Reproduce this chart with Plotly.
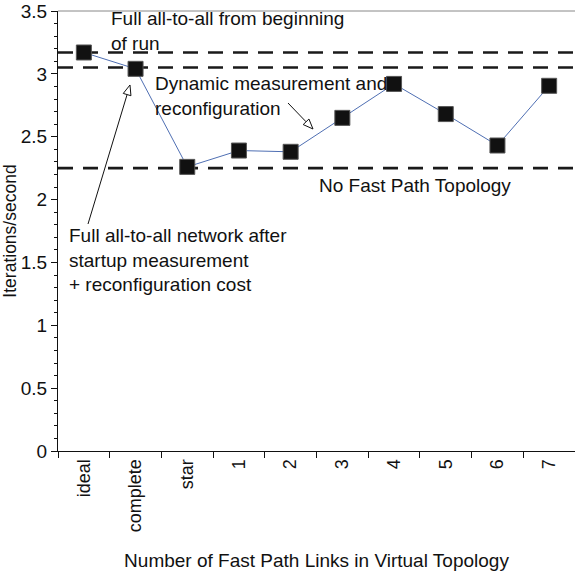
import math
import plotly.graph_objects as go

categories = ["ideal", "complete", "star", "1", "2", "3", "4", "5", "6", "7"]
iterations = [3.17, 3.04, 2.26, 2.39, 2.38, 2.65, 2.92, 2.68, 2.43, 2.905]
ref_levels = [3.17, 3.05, 2.25]

FONT = "Liberation Sans, Arial, sans-serif"

W, H = 575, 571
L, T, B = 58, 11, 120
pw, ph = W - L, H - T - B

fig = go.Figure()
fig.add_trace(go.Scatter(
    x=categories, y=iterations, mode="lines+markers",
    line=dict(color="#4f6fb3", width=1),
    marker=dict(symbol="square", size=15, color="#111111",
                line=dict(color="#555555", width=1)),
    showlegend=False,
))

for lv in ref_levels:
    fig.add_shape(type="line", xref="paper", x0=0, x1=1, yref="y", y0=lv, y1=lv,
                  line=dict(color="#1a1a1a", width=2.6, dash="15px,10px"), layer="below")

# top frame line
fig.add_shape(type="line", xref="paper", x0=0, x1=1, yref="paper", y0=1, y1=1,
              line=dict(color="#888888", width=1))


def px(x):
    return (x - L) / pw


def py(y):
    return (H - B - y) / ph


ann_font = dict(family=FONT, size=19, color="#111111")
texts = [
    ("Full all-to-all from beginning<br>of run", 109, 31),
    ("Dynamic measurement and<br>reconfiguration", 153, 96),
    ("No Fast Path Topology", 317, 185),
    ("Full all-to-all network after<br>startup measurement<br>+ reconfiguration cost", 67, 260),
]
for t, x, y in texts:
    fig.add_annotation(text=t, xref="paper", yref="paper", x=px(x), y=py(y),
                       xanchor="left", yanchor="middle", align="left",
                       showarrow=False, font=ann_font)

# arrows with open triangular heads
arrows = [((130, 85), (88, 224)), ((313, 129), (288, 103))]
for (hx, hy), (tx, ty) in arrows:
    dx, dy = hx - tx, hy - ty
    n = math.hypot(dx, dy)
    ux, uy = dx / n, dy / n
    hl, hw = 10, 4
    bx, by = hx - ux * hl, hy - uy * hl
    p1 = (bx - uy * hw, by + ux * hw)
    p2 = (bx + uy * hw, by - ux * hw)
    fig.add_shape(type="line", xref="paper", yref="paper",
                  x0=px(tx), y0=py(ty), x1=px(bx), y1=py(by),
                  line=dict(color="#111111", width=1))
    path = "M {:.5f},{:.5f} L {:.5f},{:.5f} L {:.5f},{:.5f} Z".format(
        px(hx), py(hy), px(p1[0]), py(p1[1]), px(p2[0]), py(p2[1]))
    fig.add_shape(type="path", xref="paper", yref="paper", path=path,
                  fillcolor="white", line=dict(color="#111111", width=1))

fig.update_layout(
    width=W, height=H,
    margin=dict(l=L, r=0, t=T, b=B, autoexpand=False),
    paper_bgcolor="white", plot_bgcolor="white",
    font=dict(family=FONT, size=18.5, color="#111111"),
    xaxis=dict(
        type="category", range=[-0.5, 9.5], showline=True, linecolor="#111111", linewidth=1,
        ticks="outside", tickson="boundaries", ticklen=6, tickcolor="#111111",
        tickangle=-90, showgrid=False, zeroline=False,
        tickfont=dict(family=FONT, size=18),
        title=dict(text="Number of Fast Path Links in Virtual Topology",
                   font=dict(family=FONT, size=19), standoff=24),
    ),
    yaxis=dict(
        range=[0, 3.5], dtick=0.5, showline=True, linecolor="#111111", linewidth=1,
        ticks="outside", ticklen=6, tickcolor="#111111", showgrid=False, zeroline=False,
        minor=dict(dtick=0.1, ticks="outside", ticklen=3, tickcolor="#111111", showgrid=False),
        tickfont=dict(family=FONT, size=19),
        title=dict(text="Iterations/second", font=dict(family=FONT, size=17.5), standoff=5),
    ),
)

fig.write_html("out.html", config={"displayModeBar": False},
               post_script="document.body.style.margin='0px';")
